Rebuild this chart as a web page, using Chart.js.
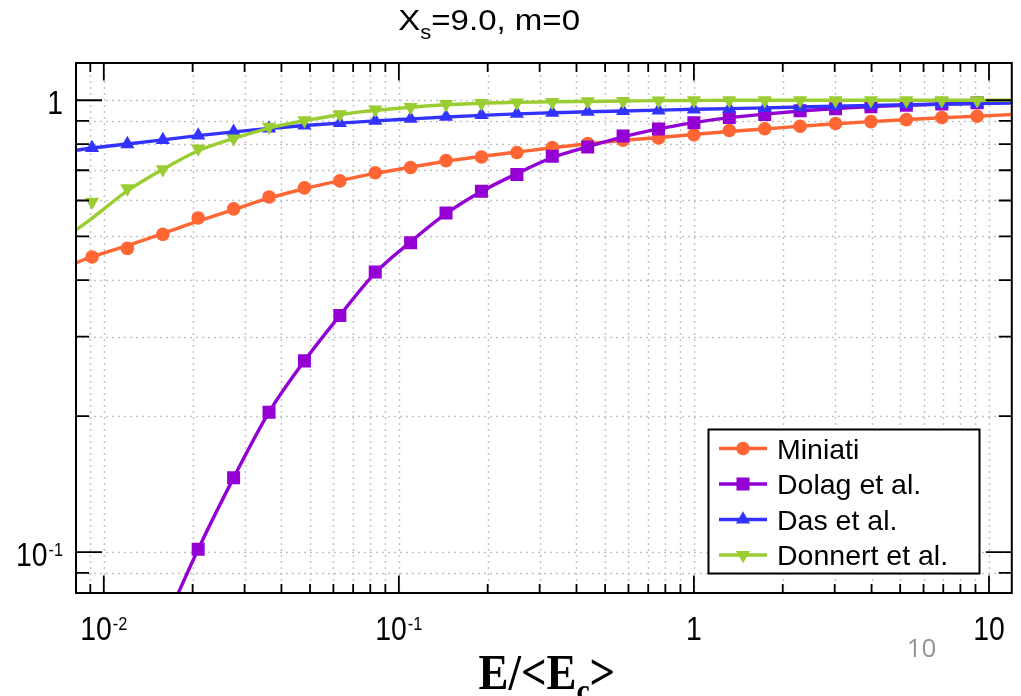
<!DOCTYPE html>
<html><head><meta charset="utf-8">
<script src="https://cdn.jsdelivr.net/npm/chart.js@4.4.1/dist/chart.umd.min.js"></script>
<style>html,body{margin:0;padding:0;background:#fff;}canvas{display:block;}</style>
</head><body>
<canvas id="c" width="1021" height="696"></canvas>
<script>
// ---- data ----
const energies = [0.00912,0.01202,0.01585,0.02089,0.02754,0.03631,0.04786,0.06310,0.08318,0.1096,0.1445,0.1905,0.2512,0.3311,0.4365,0.5754,0.7586,1.0,1.318,1.738,2.291,3.020,3.981,5.248,6.918,9.120];
const miniati = [0.450,0.470,0.505,0.549,0.575,0.611,0.640,0.663,0.691,0.710,0.735,0.749,0.766,0.786,0.802,0.816,0.825,0.839,0.857,0.865,0.876,0.888,0.897,0.906,0.916,0.922];
const dolag   = [null,null,null,0.1015,0.146,0.204,0.265,0.334,0.417,0.484,0.563,0.629,0.685,0.752,0.788,0.833,0.864,0.892,0.916,0.930,0.948,0.958,0.968,0.975,0.981,0.987];
const das     = [0.784,0.800,0.817,0.836,0.852,0.866,0.880,0.891,0.901,0.910,0.920,0.928,0.934,0.939,0.943,0.947,0.950,0.955,0.958,0.962,0.966,0.971,0.975,0.978,0.981,0.983];
const donnert = [0.596,0.638,0.703,0.782,0.823,0.873,0.903,0.931,0.954,0.966,0.980,0.985,0.988,0.991,0.994,0.996,0.998,0.999,1.0,1.0,1.0,1.0,1.0,1.0,1.0,1.0];

// fitted curves (drawn as lines)
const curveX = [0.00805,0.00912,0.01202,0.01585,0.02089,0.02754,0.03631,0.04786,0.06310,0.08318,0.1096,0.1445,0.1905,0.2512,0.3311,0.4365,0.5754,0.7586,1.0,1.318,1.738,2.291,3.020,3.981,5.248,6.918,9.120,11.95];
const miniatiCurve = [0.437,0.450,0.477,0.507,0.540,0.573,0.607,0.637,0.664,0.689,0.711,0.733,0.751,0.768,0.785,0.801,0.815,0.827,0.840,0.853,0.864,0.876,0.887,0.897,0.906,0.915,0.922,0.930];
const dasCurve     = [0.775,0.784,0.800,0.817,0.835,0.851,0.866,0.879,0.890,0.900,0.909,0.918,0.926,0.933,0.938,0.943,0.947,0.951,0.955,0.958,0.962,0.966,0.970,0.974,0.977,0.980,0.983,0.986];
const donnertCurve = [0.516,0.548,0.630,0.703,0.773,0.823,0.868,0.901,0.929,0.950,0.965,0.977,0.985,0.989,0.992,0.994,0.996,0.998,0.999,1.0,1.0,1.0,1.0,1.0,1.0,1.0,1.0,1.0];
const dolagCurveX  = [0.01585,0.02089,0.02754,0.03631,0.04786,0.06310,0.08318,0.1096,0.1445,0.1905,0.2512,0.3311,0.4365,0.5754,0.7586,1.0,1.318,1.738,2.291,3.020,3.981,5.248,6.918,9.120,11.95];
const dolagCurve   = [0.068,0.1015,0.146,0.204,0.265,0.334,0.415,0.486,0.561,0.628,0.688,0.747,0.789,0.830,0.864,0.892,0.915,0.932,0.947,0.959,0.968,0.975,0.981,0.986,0.990];

const seriesNames = ['Miniati','Dolag et al.','Das et al.','Donnert et al.'];
const titleParts = ['X','s','=9.0, m=0'];
const xAxisParts = ['E/<E','c','>'];
const xTickLabels = [{v:0.01,b:'10',s:'-2'},{v:0.1,b:'10',s:'-1'},{v:1,b:'1',s:''},{v:10,b:'10',s:''}];
const yTickLabels = [{v:1,b:'1',s:''},{v:0.1,b:'10',s:'-1'}];
const pageNumber = '10';

// ---- styles ----
const colors = ['#ff6633','#9400d3','#3333ff','#9acd32'];
const styles = [
  {pointStyle:'circle', radius:6.8, rotation:0},
  {pointStyle:'rect', radius:9.2, rotation:0},
  {pointStyle:'triangle', radius:8.2, rotation:0},
  {pointStyle:'triangle', radius:8.2, rotation:180}
];

function pts(xs, ys){ const o=[]; for(let i=0;i<xs.length;i++){ if(ys[i]!==null) o.push({x:xs[i],y:ys[i]}); } return o; }
function lineDs(xs, ys, i, order){
  return {data:pts(xs,ys), borderColor:colors[i], borderWidth:3.4, pointRadius:0, fill:false,
    cubicInterpolationMode:'monotone', clip:0, order:order};
}
function markDs(ys, i, order){
  return {data:pts(energies,ys), showLine:false, pointStyle:styles[i].pointStyle, pointRadius:styles[i].radius,
    pointRotation:styles[i].rotation, pointBackgroundColor:colors[i], pointBorderColor:colors[i], pointBorderWidth:0,
    clip:0, order:order};
}

function txt(ctx, s, x, y, font, sx, align, color){
  ctx.save(); ctx.font=font; const w=ctx.measureText(s).width*sx;
  let x0 = align==='center' ? x-w/2 : (align==='right' ? x-w : x);
  ctx.translate(x0,y); ctx.scale(sx,1); ctx.textAlign='left'; ctx.textBaseline='alphabetic';
  ctx.fillStyle=color||'#000'; ctx.fillText(s,0,0); ctx.restore(); return w;
}
function measure(ctx, s, font){ ctx.save(); ctx.font=font; const w=ctx.measureText(s).width; ctx.restore(); return w; }

function drawMarker(ctx, st, x, y, color){
  ctx.save(); ctx.fillStyle=color; ctx.beginPath();
  const r=st.radius;
  if(st.pointStyle==='circle'){ ctx.arc(x,y,r,0,Math.PI*2); }
  else if(st.pointStyle==='rect'){ const s=r*Math.SQRT1_2; ctx.rect(x-s,y-s,2*s,2*s); }
  else { let a=st.rotation*Math.PI/180; for(let k=0;k<3;k++){ const px=x+Math.sin(a)*r, py=y-Math.cos(a)*r; if(k===0) ctx.moveTo(px,py); else ctx.lineTo(px,py); a+=2*Math.PI/3; } ctx.closePath(); }
  ctx.fill(); ctx.restore();
}

const decorPlugin = {
  id:'decor',
  beforeDatasetsDraw(chart){
    const {ctx, chartArea:a, scales:{x,y}} = chart;
    ctx.save();
    ctx.strokeStyle='#c2c2c2'; ctx.lineWidth=1.5; ctx.setLineDash([2,4]);
    for(let e=-3;e<=1;e++){ for(let m=1;m<=9;m++){ const v=m*Math.pow(10,e);
      if(v>=x.min && v<=x.max){ const px=Math.round(x.getPixelForValue(v))+0.5; ctx.beginPath(); ctx.moveTo(px,a.top); ctx.lineTo(px,a.bottom); ctx.stroke(); }
      if(v>=y.min && v<=y.max){ const py=Math.round(y.getPixelForValue(v))+0.5; ctx.beginPath(); ctx.moveTo(a.left,py); ctx.lineTo(a.right,py); ctx.stroke(); }
    }}
    ctx.restore();
  },
  afterDatasetsDraw(chart){
    const {ctx, chartArea:a, scales:{x,y}} = chart;
    ctx.save();
    ctx.strokeStyle='#000'; ctx.lineWidth=1.8; ctx.setLineDash([]);
    for(let e=-3;e<=1;e++){ for(let m=1;m<=9;m++){ const v=m*Math.pow(10,e);
      if(v>=x.min && v<=x.max){ const px=x.getPixelForValue(v); const L = m===1?17.5:9;
        ctx.beginPath(); ctx.moveTo(px,a.bottom); ctx.lineTo(px,a.bottom-L); ctx.moveTo(px,a.top); ctx.lineTo(px,a.top+L); ctx.stroke(); }
      if(v>=y.min && v<=y.max){ const py=y.getPixelForValue(v); const L = m===1?26:13;
        ctx.beginPath(); ctx.moveTo(a.left,py); ctx.lineTo(a.left+L,py); ctx.moveTo(a.right,py); ctx.lineTo(a.right-L,py); ctx.stroke(); }
    }}
    ctx.lineWidth=2; ctx.strokeRect(a.left,a.top,a.right-a.left,a.bottom-a.top);
    ctx.restore();
  },
  afterDraw(chart){
    const {ctx, scales:{x,y}} = chart;
    const F = (s,w)=> (w||'') + ' ' + s + 'px "Liberation Sans", Arial, sans-serif';
    const sx = 0.86;
    xTickLabels.forEach(t=>{
      const wb = measure(ctx,t.b,F(33))*sx, ws = t.s ? measure(ctx,t.s,F(19))*sx+1 : 0;
      const cx = x.getPixelForValue(t.v); const x0 = cx-(wb+ws)/2;
      txt(ctx,t.b,x0,640,F(33),sx,'left');
      if(t.s) txt(ctx,t.s,x0+wb+1,630,F(19),sx,'left');
    });
    yTickLabels.forEach(t=>{
      const py = y.getPixelForValue(t.v);
      const right = 63;
      const ws = t.s ? measure(ctx,t.s,F(19))*sx+1 : 0;
      txt(ctx,t.b,right-ws,py+13.5,F(33),sx,'right');
      if(t.s) txt(ctx,t.s,right,py+3.5,F(19),sx,'right');
    });
    {
      const f1=F(30), f2=F(20);
      const w0=measure(ctx,titleParts[0],f1), w1=measure(ctx,titleParts[1],f2), w2=measure(ctx,titleParts[2],f1);
      const s=(580-398.3)/(w0+w1+w2);
      let cx=398.3;
      cx+=txt(ctx,titleParts[0],cx,30,f1,s,'left');
      cx+=txt(ctx,titleParts[1],cx,38.5,f2,s,'left');
      txt(ctx,titleParts[2],cx,30,f1,s,'left');
    }
    {
      const f1='bold 50px "Liberation Serif", "Times New Roman", serif', f2='bold 33px "Liberation Serif", "Times New Roman", serif';
      const w0=measure(ctx,xAxisParts[0],f1), w1=measure(ctx,xAxisParts[1],f2), w2=measure(ctx,xAxisParts[2],f1);
      const s=(615.2-478.5)/(w0+w1+w2);
      let cx=478.5;
      cx+=txt(ctx,xAxisParts[0],cx,689,f1,s,'left');
      cx+=txt(ctx,xAxisParts[1],cx,702,f2,s,'left');
      txt(ctx,xAxisParts[2],cx,689,f1,s,'left');
    }
    txt(ctx,pageNumber,906.7,657.3,'26px "Open Sans", "Liberation Sans", sans-serif',1,'left','#939393');
    ctx.save();
    ctx.fillStyle='#fff'; ctx.fillRect(708.5,429.5,271,144);
    ctx.strokeStyle='#000'; ctx.lineWidth=2; ctx.strokeRect(708.5,429.5,271,144);
    for(let i=0;i<4;i++){
      const ry = 448.5 + i*35.5;
      ctx.strokeStyle=colors[i]; ctx.lineWidth=3.4; ctx.beginPath(); ctx.moveTo(719,ry); ctx.lineTo(767,ry); ctx.stroke();
      drawMarker(ctx, styles[i], 743, ry, colors[i]);
      txt(ctx, seriesNames[i], 777, ry+10, F(28.5), 1, 'left');
    }
    ctx.restore();
  }
};

const datasets = [
  lineDs(curveX, miniatiCurve, 0, 8), markDs(miniati, 0, 7),
  lineDs(dolagCurveX, dolagCurve, 1, 6), markDs(dolag, 1, 5),
  lineDs(curveX, dasCurve, 2, 4), markDs(das, 2, 3),
  lineDs(curveX, donnertCurve, 3, 2), markDs(donnert, 3, 1)
];

new Chart(document.getElementById('c').getContext('2d'), {
  type:'line',
  data:{datasets},
  options:{
    responsive:false, animation:false, devicePixelRatio:1, events:[],
    layout:{padding:{left:76, top:63, right:2, bottom:103}},
    plugins:{legend:{display:false}, title:{display:false}, tooltip:{enabled:false}},
    scales:{
      x:{type:'logarithmic', min:0.00805, max:11.95, display:false},
      y:{type:'logarithmic', min:0.0812, max:1.209, display:false}
    }
  },
  plugins:[decorPlugin]
});
</script>
</body></html>
